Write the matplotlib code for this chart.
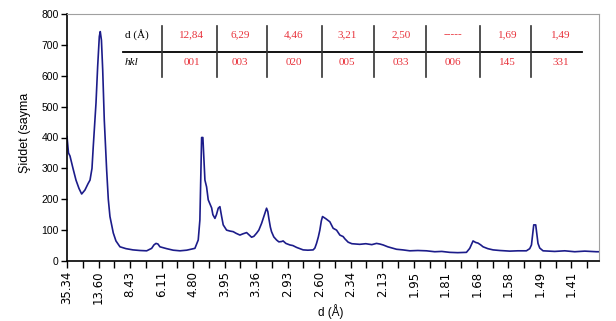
import matplotlib
matplotlib.use("Agg")
import matplotlib.pyplot as plt
from matplotlib.lines import Line2D
import numpy as np

# XRD scan, x in 2-theta (deg), y in counts
two_theta = [2.50, 2.69, 2.88, 3.26, 3.64, 4.02, 4.36, 4.78, 5.16, 5.42, 5.67, 5.83,
             6.18, 6.39, 6.60, 6.72, 6.87, 7.03, 7.23, 7.53, 7.74, 7.95, 8.37, 8.71,
             9.22, 9.98, 10.87, 11.76, 12.61, 13.24, 13.53, 13.79, 14.04, 14.29, 15.14,
             15.98, 16.83, 17.68, 18.73, 19.15, 19.36, 19.49, 19.58, 19.74, 19.87, 20.00,
             20.21, 20.42, 20.63, 20.85, 21.01, 21.27, 21.46, 21.69, 21.90, 22.12, 22.32,
             22.75, 23.17, 23.59, 23.93, 24.44, 24.82, 25.29, 25.58, 25.92, 26.21, 26.55,
             26.84, 27.19, 27.42, 27.61, 27.82, 27.98, 28.11, 28.30, 28.45, 28.74, 29.09,
             29.38, 29.72, 29.92, 30.27, 30.78, 31.16, 31.63, 32.04, 32.46, 33.06, 33.73,
             33.95, 34.16, 34.39, 34.58, 34.77, 34.92, 35.34, 35.85, 36.27, 36.70, 37.12,
             37.54, 37.75, 38.17, 38.64, 39.65, 40.41, 41.17, 41.77, 42.19, 42.61, 43.20,
             44.31, 45.11, 45.99, 47.01, 48.11, 49.16, 50.05, 51.06, 52.08, 53.18, 53.60,
             54.02, 54.36, 54.65, 55.00, 55.29, 55.89, 56.56, 57.41, 58.68, 59.69, 60.79,
             61.21, 61.43, 61.60, 61.72, 61.97, 62.10, 62.26, 62.48, 62.90, 64.38, 65.65,
             66.92, 68.19, 69.67, 70.00]
counts = [403, 350, 340, 300, 262, 235, 217, 230, 250, 262, 300, 370,
          512, 630, 727, 743, 715, 619, 457, 295, 200, 144, 91, 65,
          46, 40, 36, 34, 33, 41, 52, 57, 55, 46, 40,
          35, 33, 35, 41, 68, 133, 300, 400, 400, 330, 262,
          240, 198, 185, 172, 150, 138, 150, 171, 176, 144, 117,
          100, 97, 95, 90, 84, 88, 92, 85, 77, 80, 90,
          100, 122, 140, 155, 171, 160, 138, 110, 95, 78, 68,
          62, 63, 65, 57, 52, 50, 44, 40, 36, 35, 36,
          42, 57, 78, 100, 130, 144, 137, 127, 106, 100, 84,
          79, 72, 61, 56, 54, 56, 53, 57, 55, 52, 46,
          38, 36, 33, 34, 33, 30, 31, 28, 27, 28, 41,
          65, 60, 58, 52, 46, 40, 36, 34, 32, 33, 33,
          40, 52, 90, 117, 117, 90, 57, 42, 33, 31, 33,
          30, 32, 30, 30]

d_labels = ["35.34", "13.60", "8.43", "6.11", "4.80", "3.95", "3.36", "2.93", "2.60",
            "2.34", "2.13", "1.95", "1.81", "1.68", "1.58", "1.49", "1.41"]

table_d = ["12,84", "6,29", "4,46", "3,21", "2,50", "-----", "1,69", "1,49"]
table_hkl = ["001", "003", "020", "005", "033", "006", "145", "331"]

W, H = 616, 321
fig = plt.figure(figsize=(W / 100, H / 100), dpi=100)
ax = fig.add_axes([67 / W, 1 - 261 / H, (599 - 67) / W, (261 - 14) / H])

ax.plot(two_theta, counts, color="#1c1c8a", lw=1.2)

ax.set_xlim(2.5, 70)
ax.set_ylim(0, 800)
ax.set_yticks(np.arange(0, 801, 100))
ax.set_xticks([2.5 + 4 * i for i in range(len(d_labels))])
ax.set_xticklabels(d_labels, rotation=90, fontsize=8.5, family="DejaVu Sans")
ax.set_xticks(np.arange(4.5, 70, 4), minor=True)
ax.tick_params(axis="y", labelsize=7.5, length=4, width=1, pad=2)
ax.tick_params(axis="x", which="both", length=5, width=1, direction="out", pad=2)
for lab in ax.get_yticklabels():
    lab.set_family("Liberation Sans")

ax.spines["top"].set_color("#a0a0a0")
ax.spines["right"].set_color("#a0a0a0")
ax.spines["left"].set_linewidth(1.2)
ax.spines["bottom"].set_linewidth(1.2)

fig.text(25 / W, 1 - 133 / H, "Şiddet (sayma", rotation=90, ha="center", va="center",
         fontsize=9, family="Liberation Sans")
fig.text(331 / W, 1 - 312 / H, "d (Å)", ha="center", va="center",
         fontsize=8.5, family="Liberation Sans")

# table of reflections inside the plot
def fx(x):
    return x / W

def fy(y):
    return 1 - y / H

fig.add_artist(Line2D([fx(123), fx(582)], [fy(51.7), fy(51.7)], color="black", lw=1.3))
for xv in [161.7, 216.7, 267.3, 321.7, 373.7, 426, 480, 531]:
    fig.add_artist(Line2D([fx(xv), fx(xv)], [fy(26), fy(77.3)], color="#333333", lw=1.2))

red = "#e8333c"
fig.text(fx(125), fy(35), "d (Å)", ha="left", va="center", fontsize=8, family="Liberation Serif")
fig.text(fx(125), fy(62.7), "hkl", ha="left", va="center", fontsize=8, family="Liberation Serif",
         style="italic")
centers = [191.7, 240, 294, 347.3, 400.7, 453.3, 507.3, 560.7]
for cx, dv, hv in zip(centers, table_d, table_hkl):
    fig.text(fx(cx), fy(35), dv, ha="center", va="center", fontsize=8, color=red,
             family="Liberation Serif")
    fig.text(fx(cx), fy(62.7), hv, ha="center", va="center", fontsize=8, color=red,
             family="Liberation Serif")

fig.savefig("out.png", dpi=100)
